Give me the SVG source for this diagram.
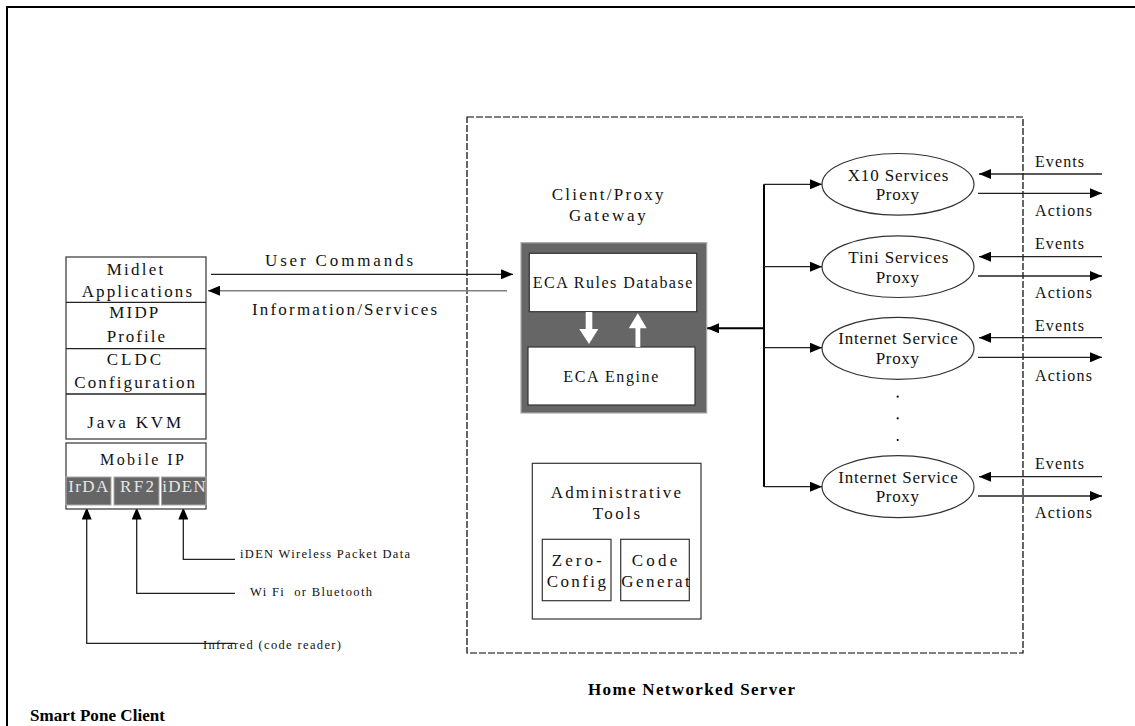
<svg xmlns="http://www.w3.org/2000/svg" width="1135" height="726" viewBox="0 0 1135 726">
<style>
text{font-family:"Liberation Serif","Times New Roman",serif;fill:#111;}
.t16{font-size:17px;}
.t15{font-size:16px;}
.t12{font-size:12.5px;}
.bold{font-weight:bold;font-size:17px;fill:#000;}
.box{fill:#fff;stroke:#333;stroke-width:1.2;}
.cell{fill:#666;stroke:#aaa;stroke-width:1;}
.celltext{fill:#e6e6e6;font-size:17px;}
.ln{fill:none;stroke:#222;stroke-width:1.3;}
.lg{fill:none;stroke:#808080;stroke-width:1.6;}
.lb{fill:none;stroke:#000;stroke-width:2;}
.ell{fill:#fff;stroke:#333;stroke-width:1.2;}
</style>
<defs>
<marker id="ah" viewBox="0 0 12 10" refX="12" refY="5" markerWidth="12" markerHeight="10" markerUnits="userSpaceOnUse" orient="auto">
<path d="M0,0 L12,5 L0,10 z" fill="#000"/>
</marker>
</defs>
<rect width="1135" height="726" fill="#fff"/>
<path d="M7,726 V7 H1135" fill="none" stroke="#000" stroke-width="2"/>
<rect id="server-boundary" x="467" y="117" width="556" height="536" fill="none" stroke="#000" stroke-width="1.2" stroke-dasharray="7 2"/>

<g id="connectors">
<line class="ln" x1="211" y1="274.3" x2="513" y2="274.3" marker-end="url(#ah)"/>
<line class="lg" x1="507" y1="290.7" x2="208" y2="290.7" marker-end="url(#ah)"/>
<line class="lb" x1="764" y1="184.3" x2="764" y2="486.7"/>
<line class="lb" x1="764" y1="328.3" x2="707" y2="328.3" marker-end="url(#ah)"/>
<line class="ln" x1="764" y1="184.3" x2="822" y2="184.3" marker-end="url(#ah)"/>
<line class="ln" x1="764" y1="266.7" x2="822" y2="266.7" marker-end="url(#ah)"/>
<line class="ln" x1="764" y1="347.7" x2="822" y2="347.7" marker-end="url(#ah)"/>
<line class="ln" x1="764" y1="486.7" x2="822" y2="486.7" marker-end="url(#ah)"/>
<line class="ln" x1="1102" y1="174" x2="979" y2="174" marker-end="url(#ah)"/>
<line class="ln" x1="978" y1="193.3" x2="1102" y2="193.3" marker-end="url(#ah)"/>
<line class="ln" x1="1102" y1="256.7" x2="979" y2="256.7" marker-end="url(#ah)"/>
<line class="ln" x1="978" y1="276" x2="1102" y2="276" marker-end="url(#ah)"/>
<line class="ln" x1="1102" y1="337.7" x2="979" y2="337.7" marker-end="url(#ah)"/>
<line class="ln" x1="978" y1="357.3" x2="1102" y2="357.3" marker-end="url(#ah)"/>
<line class="ln" x1="1102" y1="476.7" x2="979" y2="476.7" marker-end="url(#ah)"/>
<line class="ln" x1="978" y1="496" x2="1102" y2="496" marker-end="url(#ah)"/>
<polyline class="ln" points="235,643.3 86.7,643.3 86.7,507.5" marker-end="url(#ah)"/>
<polyline class="ln" points="235,593.3 136.7,593.3 136.7,507.5" marker-end="url(#ah)"/>
<polyline class="ln" points="235,559.3 183.3,559.3 183.3,507.5" marker-end="url(#ah)"/>
</g>

<g id="connector-labels">
<text class="t16" x="265" y="266" textLength="148" lengthAdjust="spacing">User Commands</text>
<text class="t16" x="252" y="315" textLength="185" lengthAdjust="spacing">Information/Services</text>
<text class="t12" x="240" y="558" textLength="170" lengthAdjust="spacing">iDEN Wireless Packet Data</text>
<text class="t12" x="250" y="596" textLength="122" lengthAdjust="spacing" xml:space="preserve">Wi Fi  or Bluetooth</text>
<text class="t12" x="203" y="649" textLength="138" lengthAdjust="spacing">Infrared (code reader)</text>
<text class="t15" x="1035" y="167.3" textLength="49" lengthAdjust="spacing">Events</text>
<text class="t15" x="1035" y="216" textLength="57" lengthAdjust="spacing">Actions</text>
<text class="t15" x="1035" y="249.3" textLength="49" lengthAdjust="spacing">Events</text>
<text class="t15" x="1035" y="298.3" textLength="57" lengthAdjust="spacing">Actions</text>
<text class="t15" x="1035" y="330.7" textLength="49" lengthAdjust="spacing">Events</text>
<text class="t15" x="1035" y="381" textLength="57" lengthAdjust="spacing">Actions</text>
<text class="t15" x="1035" y="469.3" textLength="49" lengthAdjust="spacing">Events</text>
<text class="t15" x="1035" y="518.3" textLength="57" lengthAdjust="spacing">Actions</text>
</g>

<g id="midp-stack">
<rect class="box" x="66" y="257" width="140" height="182"/>
<line class="ln" x1="66" y1="302.3" x2="206" y2="302.3"/>
<line class="ln" x1="66" y1="348.7" x2="206" y2="348.7"/>
<line class="ln" x1="66" y1="394" x2="206" y2="394"/>
<text class="t16" x="106.7" y="275" textLength="56.6" lengthAdjust="spacing">Midlet</text>
<text class="t16" x="81.7" y="297" textLength="110.3" lengthAdjust="spacing">Applications</text>
<text class="t16" x="109.3" y="318" textLength="49" lengthAdjust="spacing">MIDP</text>
<text class="t16" x="106.7" y="341.5" textLength="58.3" lengthAdjust="spacing">Profile</text>
<text class="t16" x="106.7" y="365" textLength="54.3" lengthAdjust="spacing">CLDC</text>
<text class="t16" x="74.3" y="388" textLength="120.7" lengthAdjust="spacing">Configuration</text>
<text class="t16" x="87.3" y="428" textLength="93.7" lengthAdjust="spacing">Java KVM</text>
</g>

<g id="mobile-ip">
<rect class="box" x="66" y="443" width="140" height="66"/>
<text class="t15" x="100" y="465" textLength="84" lengthAdjust="spacing">Mobile IP</text>
<rect class="cell" x="66" y="477" width="45" height="28"/>
<rect class="cell" x="114" y="477" width="45" height="28"/>
<rect class="cell" x="161.5" y="477" width="44.5" height="28"/>
<text class="celltext" x="68.3" y="491.5" textLength="40" lengthAdjust="spacing">IrDA</text>
<text class="celltext" x="120" y="491.5" textLength="34" lengthAdjust="spacing">RF2</text>
<text class="celltext" x="162.3" y="491.5" textLength="43.4" lengthAdjust="spacing">iDEN</text>
</g>

<g id="gateway">
<text class="t16" x="551.7" y="200" textLength="111.7" lengthAdjust="spacing">Client/Proxy</text>
<text class="t16" x="569" y="221" textLength="76.7" lengthAdjust="spacing">Gateway</text>
<rect x="521" y="242.7" width="185.7" height="170.3" fill="#666" stroke="#aaa" stroke-width="1.2"/>
<rect class="box" x="529.3" y="253.3" width="167.4" height="58.4"/>
<rect class="box" x="528" y="347" width="167" height="58"/>
<text class="t15" x="532.7" y="287.7" textLength="159.6" lengthAdjust="spacing">ECA Rules Database</text>
<text class="t15" x="563.3" y="382.3" textLength="95" lengthAdjust="spacing">ECA Engine</text>
<path d="M585.7,312 H592.3 V329 H598.3 L589,344 L579.3,329 H585.7 Z" fill="#fff"/>
<path d="M637.8,313.3 L646.7,328.3 H640.3 V347 H635.5 V328.3 H628.8 Z" fill="#fff"/>
</g>

<g id="admin-tools">
<rect class="box" x="532.3" y="463.3" width="168.7" height="155.7"/>
<text class="t16" x="550.7" y="498.3" textLength="130.3" lengthAdjust="spacing">Administrative</text>
<text class="t16" x="592.7" y="519.3" textLength="47.3" lengthAdjust="spacing">Tools</text>
<rect class="box" x="542.3" y="539.3" width="68.7" height="61.4"/>
<rect class="box" x="620.7" y="539.3" width="68.6" height="61.4"/>
<text class="t16" x="551.7" y="566" textLength="50" lengthAdjust="spacing">Zero-</text>
<text class="t16" x="546.7" y="587" textLength="59.3" lengthAdjust="spacing">Config</text>
<text class="t16" x="631.7" y="566" textLength="45.6" lengthAdjust="spacing">Code</text>
<text class="t16" x="621.3" y="587" textLength="68.4" lengthAdjust="spacing">Generat</text>
</g>

<g id="x10-proxy">
<ellipse class="ell" cx="898" cy="184.3" rx="76" ry="30.8"/>
<text class="t16" x="847.7" y="180.7" textLength="100.6" lengthAdjust="spacing">X10 Services</text>
<text class="t16" x="875.7" y="200" textLength="43.3" lengthAdjust="spacing">Proxy</text>
</g>
<g id="tini-proxy">
<ellipse class="ell" cx="898" cy="266.7" rx="76" ry="30.8"/>
<text class="t16" x="848.3" y="263.3" textLength="100" lengthAdjust="spacing">Tini Services</text>
<text class="t16" x="875.7" y="282.7" textLength="43.3" lengthAdjust="spacing">Proxy</text>
</g>
<g id="internet-proxy-1">
<ellipse class="ell" cx="898" cy="348.3" rx="76" ry="31"/>
<text class="t16" x="838.3" y="344" textLength="119.4" lengthAdjust="spacing">Internet Service</text>
<text class="t16" x="875.7" y="364" textLength="43.3" lengthAdjust="spacing">Proxy</text>
</g>
<g id="ellipsis-dots">
<circle cx="897.7" cy="396.7" r="1.1" fill="#000"/>
<circle cx="897.7" cy="418.3" r="1.1" fill="#000"/>
<circle cx="897.7" cy="440" r="1.1" fill="#000"/>
</g>
<g id="internet-proxy-2">
<ellipse class="ell" cx="898" cy="486.7" rx="76" ry="31"/>
<text class="t16" x="838.3" y="482.7" textLength="119.4" lengthAdjust="spacing">Internet Service</text>
<text class="t16" x="875.7" y="501.7" textLength="43.3" lengthAdjust="spacing">Proxy</text>
</g>

<g id="titles">
<text class="bold" x="30" y="721" textLength="135" lengthAdjust="spacing">Smart Pone Client</text>
<text class="bold" x="588" y="695" textLength="207" lengthAdjust="spacing">Home Networked Server</text>
</g>
</svg>
